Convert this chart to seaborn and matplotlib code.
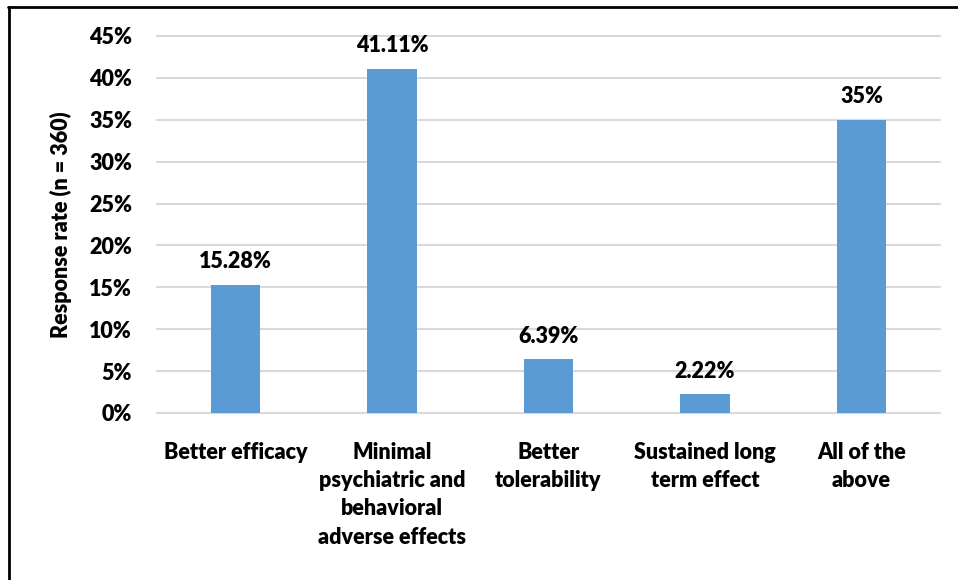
import numpy as np
import pandas as pd
import seaborn as sns
import matplotlib
matplotlib.use("Agg")
import matplotlib.pyplot as plt
import matplotlib.lines as mlines
from matplotlib.ticker import PercentFormatter

categories = ["Better efficacy",
              "Minimal\npsychiatric and\nbehavioral\nadverse effects",
              "Better\ntolerability",
              "Sustained long\nterm effect",
              "All of the\nabove"]
values = [15.28, 41.11, 6.39, 2.22, 35.0]
value_labels = ["15.28%", "41.11%", "6.39%", "2.22%", "35%"]
y_ticks = [0, 5, 10, 15, 20, 25, 30, 35, 40, 45]

sns.set_theme(style="white")
plt.rcParams['font.family'] = ['Lato', 'DejaVu Sans']

FS = 15.5
FW = 'heavy'

df = pd.DataFrame({'category': categories, 'value': values})

fig = plt.figure(figsize=(9.58, 5.8), dpi=100)
ax = fig.add_axes([0.164, 0.288, 0.817, 0.65])

sns.barplot(ax=ax, data=df, x='category', y='value',
            color='#5B9BD5', saturation=1, width=0.315, linewidth=0, zorder=3)

ax.set_ylim(0, 45)
ax.set_xlim(-0.5, 4.5)
ax.set_yticks(y_ticks)
ax.yaxis.set_major_formatter(PercentFormatter(decimals=0))
ax.grid(axis='y', color='#D9D9D9', linewidth=1.5, zorder=0)
for gl in ax.get_ygridlines():
    gl.set_clip_on(False)
ax.grid(axis='x', visible=False)
for s in ax.spines.values():
    s.set_visible(False)
ax.tick_params(axis='both', length=0, labelsize=FS)
ax.tick_params(axis='y', pad=18)
ax.tick_params(axis='x', pad=21)
for lbl in ax.get_xticklabels() + ax.get_yticklabels():
    lbl.set_fontweight(FW)
    lbl.set_color('black')
for lbl in ax.get_xticklabels():
    lbl.set_linespacing(1.42)

ax.set_xlabel('')
ax.set_ylabel('Response rate (n = 360)', fontsize=FS, fontweight=FW,
              color='black', labelpad=12)

ax.bar_label(ax.containers[0], labels=value_labels, padding=9,
             fontsize=FS, fontweight=FW, color='black')

# outer frame (left and top edges)
fig.add_artist(mlines.Line2D([0.0095, 0.0095], [0, 0.988], color='black',
                             linewidth=2, transform=fig.transFigure))
fig.add_artist(mlines.Line2D([0.0085, 1.0], [0.988, 0.988], color='black',
                             linewidth=2, transform=fig.transFigure))

fig.savefig('out.png', dpi=100)
